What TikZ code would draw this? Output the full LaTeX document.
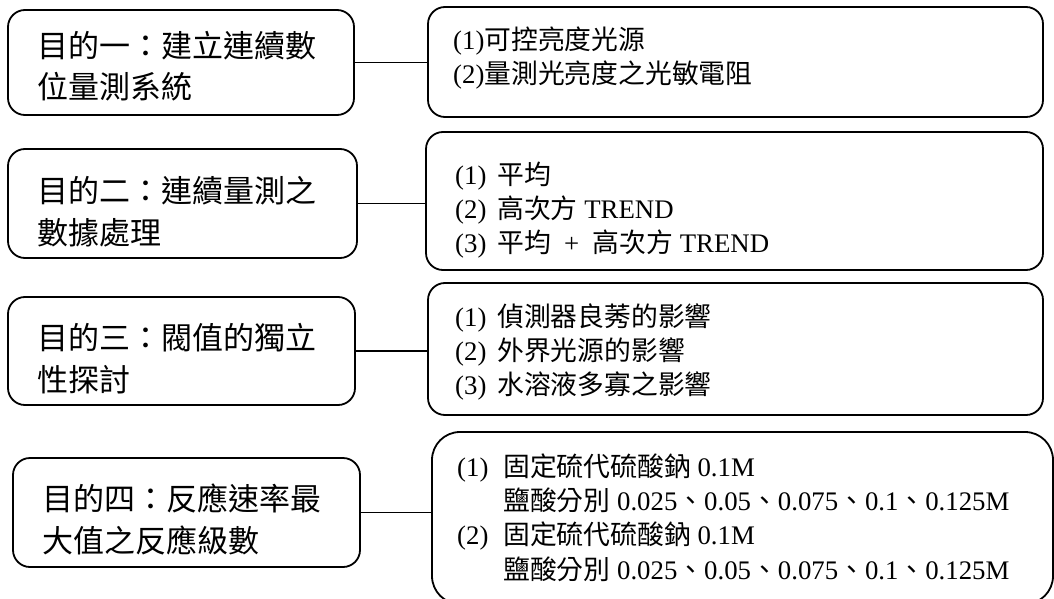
\documentclass[tikz,border=0pt]{standalone}
\usepackage{fontspec}
\setmainfont{Liberation Serif}
\newfontfamily\cjk{Noto Sans CJK TC}
\newcommand{\lfont}{\fontsize{31}{42}\selectfont\cjk}
\newcommand{\rfont}{\fontsize{26.8}{34}\selectfont}
\newcommand{\lab}[2][42pt]{\makebox[#1][l]{#2}}
\begin{document}
\begin{tikzpicture}[x=1pt,y=-1pt,
  box/.style={draw, line width=1.8pt, rounded corners=17pt, inner sep=0pt},
  ltext/.style={anchor=base west, inner sep=0pt, font=\lfont},
  rtext/.style={anchor=base west, inner sep=0pt, font=\rfont},
  link/.style={line width=1.8pt}]
\useasboundingbox (0,0) rectangle (1054,599);
\clip (0,0) rectangle (1054,599);
% left boxes
\node[box, minimum width=346pt, minimum height=105pt] (l1) at (181,62.5) {};
\node[box, minimum width=349pt, minimum height=109pt] (l2) at (182.5,203.5) {};
\node[box, minimum width=347pt, minimum height=108pt] (l3) at (181.5,351) {};
\node[box, minimum width=347pt, minimum height=109pt] (l4) at (186.5,512.5) {};
% right boxes
\node[box, minimum width=615pt, minimum height=110pt] (r1) at (735.5,62) {};
\node[box, minimum width=617pt, minimum height=138pt] (r2) at (734.5,201) {};
\node[box, minimum width=615pt, minimum height=132pt] (r3) at (735.5,349) {};
\node[box, rounded corners=28pt, minimum width=621pt, minimum height=172pt] (r4) at (742.5,518) {};
% connectors
\draw[link] (l1.east) -- (l1.east -| r1.west);
\draw[link] (l2.east) -- (l2.east -| r2.west);
\draw[link] (l3.east) -- (l3.east -| r3.west);
\draw[link] (l4.east) -- (l4.east -| r4.west);
% left texts
\node[ltext] (t1a) at (37,58) {目的一：建立連續數};
\node[ltext] (t1b) at (37,99) {位量測系統};
\node[ltext] (t2a) at (37,202) {目的二：連續量測之};
\node[ltext] (t2b) at (37,244) {數據處理};
\node[ltext] (t3a) at (37,349) {目的三：閥值的獨立};
\node[ltext] (t3b) at (37,391) {性探討};
\node[ltext] (t4a) at (42,510) {目的四：反應速率最};
\node[ltext] (t4b) at (42,552) {大值之反應級數};
% right texts
\node[rtext] (s1a) at (453,49.5) {(1){\cjk 可控亮度光源}};
\node[rtext] (s1b) at (453,83.5) {(2){\cjk 量測光亮度之光敏電阻}};
\node[rtext] (s2a) at (455,184.5) {\lab{(1)}{\cjk 平均}};
\node[rtext] (s2b) at (455,218.5) {\lab{(2)}{\cjk 高次方} TREND};
\node[rtext] (s2c) at (455,252.5) {\lab{(3)}{\cjk 平均}\ \ +\ \ {\cjk 高次方} TREND};
\node[rtext] (s3a) at (455,326.5) {\lab{(1)}{\cjk 偵測器良莠的影響}};
\node[rtext] (s3b) at (455,360.5) {\lab{(2)}{\cjk 外界光源的影響}};
\node[rtext] (s3c) at (455,394.5) {\lab{(3)}{\cjk 水溶液多寡之影響}};
\node[rtext] (s4a) at (457,476.5) {\lab[46pt]{(1)}{\cjk 固定硫代硫酸鈉} 0.1M};
\node[rtext] (s4b) at (457,510.5) {\lab[46pt]{}{\cjk 鹽酸分別} 0.025{\cjk 、}0.05{\cjk 、}0.075{\cjk 、}0.1{\cjk 、}0.125M};
\node[rtext] (s4c) at (457,544.5) {\lab[46pt]{(2)}{\cjk 固定硫代硫酸鈉} 0.1M};
\node[rtext] (s4d) at (457,579.5) {\lab[46pt]{}{\cjk 鹽酸分別} 0.025{\cjk 、}0.05{\cjk 、}0.075{\cjk 、}0.1{\cjk 、}0.125M};
\end{tikzpicture}
\end{document}
